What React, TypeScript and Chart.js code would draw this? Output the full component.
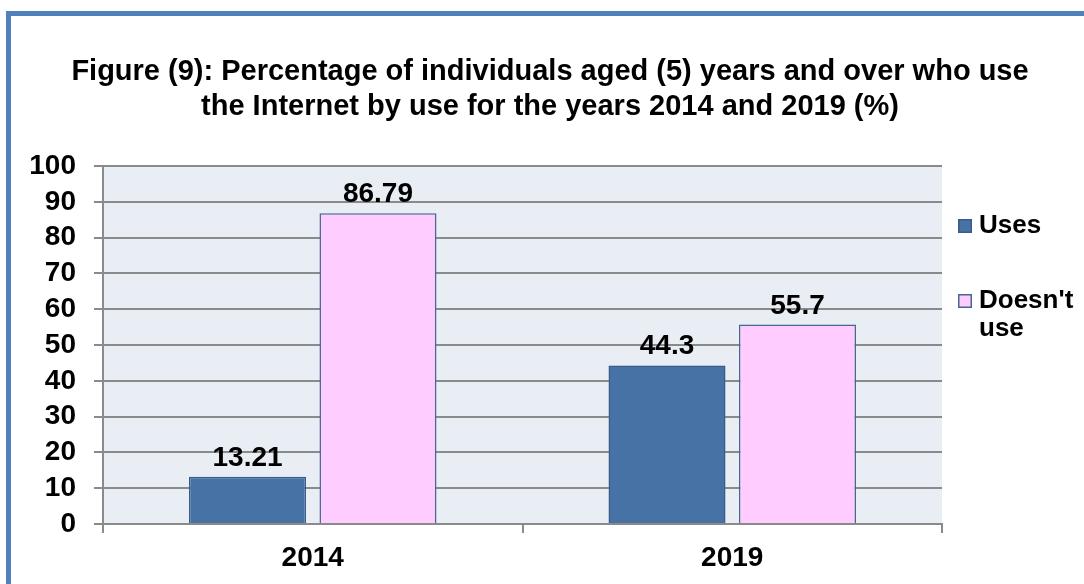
import React, { useEffect, useRef } from "react";
import { Chart, registerables } from "chart.js";

Chart.register(...registerables);

const titleLines = [
  "Figure (9): Percentage of individuals aged (5) years and over who use",
  "the Internet by use for the years 2014 and 2019 (%)",
];
const categories = ["2014", "2019"];
const seriesNames = ["Uses", "Doesn't use"];
const usesValues = [13.21, 44.3];
const notUsesValues = [86.79, 55.7];
const yTickValues = [0, 10, 20, 30, 40, 50, 60, 70, 80, 90, 100];

const FONT = 'Arial, "Liberation Sans", sans-serif';
const GRID = "#8A8A8A";
const W = 1084;
const H = 584;

function wrapText(ctx: CanvasRenderingContext2D, text: string, maxW: number): string[] {
  const words = text.split(" ");
  const lines: string[] = [];
  let cur = "";
  for (const w of words) {
    const test = cur ? cur + " " + w : w;
    if (cur && ctx.measureText(test).width > maxW) {
      lines.push(cur);
      cur = w;
    } else {
      cur = test;
    }
  }
  if (cur) lines.push(cur);
  return lines;
}

const framePlugin = {
  id: "frameAndTitle",
  beforeDraw(chart: any) {
    const { ctx, chartArea, width, height } = chart;
    ctx.save();
    ctx.fillStyle = "#ffffff";
    ctx.fillRect(0, 0, width, height);
    ctx.fillStyle = "#4F81BD";
    ctx.fillRect(6, 11, width - 6, 5);
    ctx.fillRect(6, 11, 5, height - 11);
    ctx.fillStyle = "#E9EDF4";
    ctx.fillRect(chartArea.left, chartArea.top, chartArea.right - chartArea.left, chartArea.bottom - chartArea.top);
    ctx.fillStyle = "#000000";
    ctx.font = `bold 29px ${FONT}`;
    ctx.textAlign = "center";
    ctx.textBaseline = "alphabetic";
    titleLines.forEach((line, i) => ctx.fillText(line, 550, 80 + i * 35));
    ctx.restore();
  },
};

const valueLabelPlugin = {
  id: "valueLabels",
  afterDatasetsDraw(chart: any) {
    const { ctx } = chart;
    ctx.save();
    ctx.fillStyle = "#000000";
    ctx.font = `bold 28px ${FONT}`;
    ctx.textAlign = "center";
    ctx.textBaseline = "alphabetic";
    chart.data.datasets.forEach((ds: any, di: number) => {
      const meta = chart.getDatasetMeta(di);
      meta.data.forEach((bar: any, i: number) => {
        ctx.fillText(String(ds.data[i]), bar.x, bar.y - 11);
      });
    });
    ctx.restore();
  },
};

const legendPlugin = {
  id: "sideLegend",
  afterDraw(chart: any) {
    const { ctx, chartArea, width } = chart;
    ctx.save();
    const x0 = chartArea.right + 16;
    let y = chartArea.top + 60;
    ctx.font = `bold 26px ${FONT}`;
    ctx.textAlign = "left";
    ctx.textBaseline = "middle";
    chart.data.datasets.forEach((ds: any) => {
      ctx.fillStyle = ds.backgroundColor;
      ctx.fillRect(x0, y - 7, 14, 14);
      ctx.strokeStyle = ds.borderColor;
      ctx.lineWidth = 1.5;
      ctx.strokeRect(x0 + 0.75, y - 7 + 0.75, 12.5, 12.5);
      ctx.fillStyle = "#000000";
      const tx = x0 + 21;
      const lines = wrapText(ctx, ds.label, width - tx - 2);
      lines.forEach((ln, k) => ctx.fillText(ln, tx, y + k * 28));
      y += 75;
    });
    ctx.restore();
  },
};

export default function App() {
  const canvasRef = useRef<HTMLCanvasElement | null>(null);

  useEffect(() => {
    if (!canvasRef.current) return;
    const tickFont = { family: FONT, size: 28, weight: "bold" as const };
    const chart = new Chart(canvasRef.current, {
      type: "bar",
      data: {
        labels: categories,
        datasets: [
          {
            label: seriesNames[0],
            data: usesValues,
            backgroundColor: "#4672A6",
            borderColor: "#385D8A",
            borderWidth: 1.5,
            categoryPercentage: 0.622,
            barPercentage: 0.897,
          },
          {
            label: seriesNames[1],
            data: notUsesValues,
            backgroundColor: "#FFCCFF",
            borderColor: "#46678F",
            borderWidth: 1.5,
            categoryPercentage: 0.622,
            barPercentage: 0.897,
          },
        ],
      },
      options: {
        responsive: false,
        animation: false,
        devicePixelRatio: 1,
        layout: { padding: { top: 166, right: 142, left: 0, bottom: 0 } },
        plugins: {
          legend: { display: false },
          title: { display: false },
          tooltip: { enabled: false },
        },
        scales: {
          x: {
            offset: true,
            grid: { offset: true, drawOnChartArea: false, color: GRID, lineWidth: 2, tickLength: 9 },
            border: { display: true, color: GRID, width: 2 },
            ticks: { color: "#000000", font: tickFont, padding: 8, maxRotation: 0 },
            afterFit: (s: any) => {
              s.height = 60;
            },
          },
          y: {
            min: 0,
            max: 100,
            afterBuildTicks: (s: any) => {
              s.ticks = yTickValues.map((v) => ({ value: v }));
            },
            grid: { color: GRID, lineWidth: 2, tickLength: 9 },
            border: { display: true, color: GRID, width: 2 },
            ticks: { color: "#000000", font: tickFont, padding: 18, autoSkip: false },
            afterFit: (s: any) => {
              s.width = 103;
            },
          },
        },
      },
      plugins: [framePlugin, valueLabelPlugin, legendPlugin],
    });
    return () => chart.destroy();
  }, []);

  return (
    <div style={{ position: "absolute", left: 0, top: 0, width: W, height: H, background: "#ffffff" }}>
      <canvas ref={canvasRef} width={W} height={H} style={{ display: "block" }} />
    </div>
  );
}
